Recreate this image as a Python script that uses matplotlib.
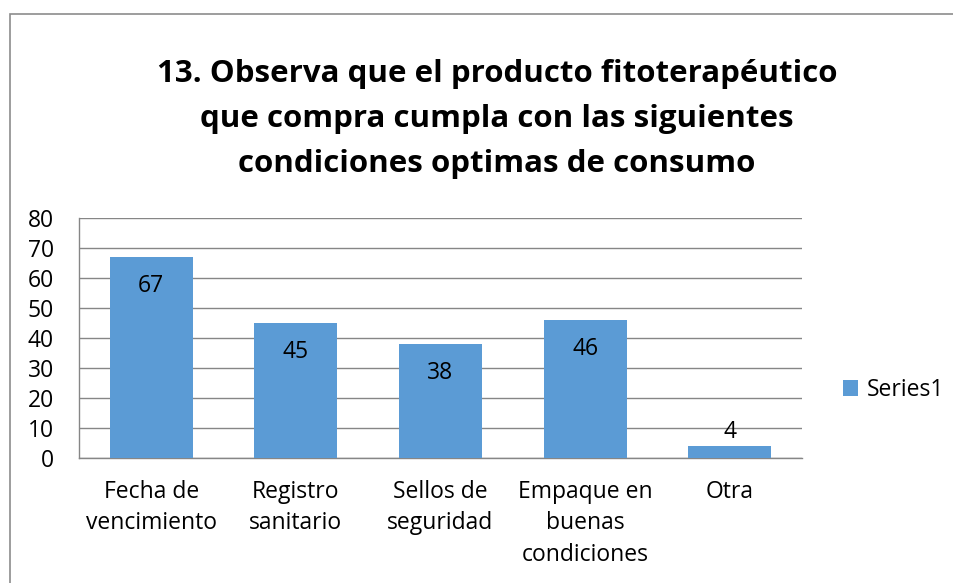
import matplotlib.pyplot as plt
from matplotlib.patches import Rectangle

# | Data |-------------------------------------------------------------------------------------------------------------|
categories = ["Fecha de\nvencimiento", "Registro\nsanitario", "Sellos de\nseguridad",
              "Empaque en\nbuenas\ncondiciones", "Otra"]
values     = [67, 45, 38, 46, 4]
series     = "Series1"
title      = ("13. Observa que el producto fitoterapéutico\n"
              "que compra cumpla con las siguientes\n"
              "condiciones optimas de consumo")
yticks     = [0, 10, 20, 30, 40, 50, 60, 70, 80]
# |--------------------------------------------------------------------------------------------------------------------|

plt.rcParams['font.family'] = ['Open Sans', 'DejaVu Sans']
W, H = 954, 583
bar_color = "#5B9BD5"
grid_color = "#868686"
fs = 16.5

fig = plt.figure(figsize=(W / 100, H / 100), dpi=100)
fig.patch.set_facecolor("white")

# chart area border (only left and top visible, the rest is cropped)
fig.patches.append(Rectangle((10 / W, -0.1), 1.2, (H - 14) / H + 0.1, transform=fig.transFigure,
                             fill=False, edgecolor="#8c8c8c", linewidth=1.2))

ax = fig.add_axes([79 / W, 1 - 458 / H, (802 - 79) / W, (458 - 218) / H])
x = list(range(len(categories)))
bars = ax.bar(x, values, width=0.575, color=bar_color, zorder=3, label=series)

ax.set_xlim(-0.5, len(categories) - 0.5)
ax.set_ylim(0, 80)
ax.set_yticks(yticks)
ax.set_xticks(x)
ax.set_xticklabels(categories, fontsize=fs, linespacing=1.4, va="top")
ax.tick_params(axis="y", labelsize=fs, length=0, pad=18)
ax.tick_params(axis="x", length=0, pad=16)
ax.grid(axis="y", color=grid_color, linewidth=1.0, zorder=0)
for side in ("top", "right"):
    ax.spines[side].set_visible(False)
for side in ("left", "bottom"):
    ax.spines[side].set_color(grid_color)
    ax.spines[side].set_linewidth(1.0)

for b, v in zip(bars, values):
    cx = b.get_x() + b.get_width() / 2
    dy = -21 if v > 10 else 10
    ax.annotate(str(v), (cx, v), xytext=(0, dy), textcoords="offset points",
                ha="center", va="center", fontsize=fs, zorder=4)

fig.text(497 / W, 1 - 119 / H, title, ha="center", va="center", fontsize=22.5,
         fontweight="bold", linespacing=1.67)

ax.legend(loc="center left", bbox_to_anchor=(843 / W, 1 - 390 / H), bbox_transform=fig.transFigure,
          frameon=False, fontsize=fs, handlelength=0.65, handleheight=0.65, handletextpad=0.4,
          borderaxespad=0, borderpad=0)

fig.savefig("out.png", dpi=100)
